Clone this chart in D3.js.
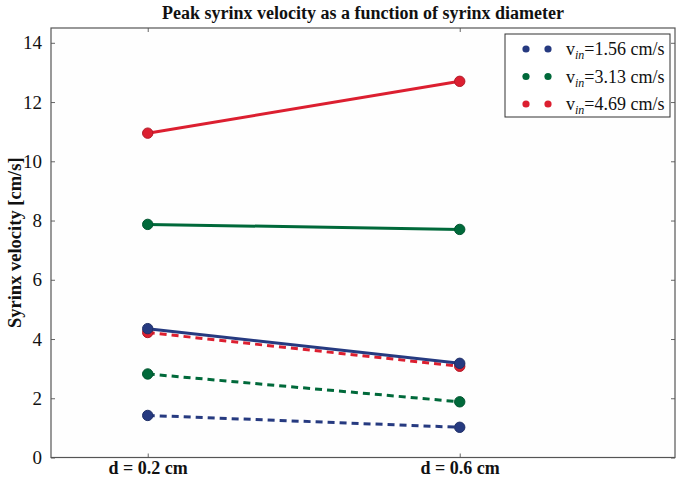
<!DOCTYPE html>
<html><head><meta charset="utf-8">
<script src="https://cdn.jsdelivr.net/npm/d3@7"></script>
<style>body{margin:0;background:#fff}svg{display:block}text{font-family:"Liberation Serif","DejaVu Serif",serif}</style>
</head><body><svg id="c" width="680" height="480"></svg>
<script>
const categories = ["d = 0.2 cm", "d = 0.6 cm"];
const seriesNames = ["v_in=1.56 cm/s", "v_in=3.13 cm/s", "v_in=4.69 cm/s"];
const legendValues = ["1.56", "3.13", "4.69"];
const colors = ["#263a80", "#00693a", "#dc1f30"];
const solidValues = [[4.35, 3.18], [7.87, 7.70], [10.95, 12.70]];
const dashedValues = [[1.42, 1.02], [2.82, 1.88], [4.22, 3.08]];
const yTicks = [0, 2, 4, 6, 8, 10, 12, 14];

const svg = d3.select("#c");
const L = 51, R = 675, T = 28, B = 457.5;
const x = d3.scaleLinear().domain([-0.31, 1.69]).range([L, R]);
const y = d3.scaleLinear().domain([0, 14.5]).range([B, T]);

svg.append("rect").attr("x", L).attr("y", T).attr("width", R - L).attr("height", B - T).attr("fill", "#fefefe");

// axes
const yl = svg.append("g").attr("transform", `translate(${L},0)`).call(d3.axisLeft(y).tickValues(yTicks).tickSize(-4).tickPadding(9));
const yr = svg.append("g").attr("transform", `translate(${R},0)`).call(d3.axisRight(y).tickValues(yTicks).tickSize(-4).tickFormat(""));
const xb = svg.append("g").attr("transform", `translate(0,${B})`).call(d3.axisBottom(x).tickValues([0, 1]).tickSize(-4).tickPadding(4).tickFormat(i => categories[i]));
const xt = svg.append("g").attr("transform", `translate(0,${T})`).call(d3.axisTop(x).tickValues([0, 1]).tickSize(-4).tickFormat(""));
[yl, yr, xb, xt].forEach(g => { g.select(".domain").remove(); g.selectAll("line").attr("stroke", "#666"); });
yl.selectAll("text").attr("font-size", 19).attr("fill", "#111").attr("font-family", "Liberation Serif");
xb.selectAll("text").attr("font-size", 18).attr("font-weight", "bold").attr("fill", "#111").attr("font-family", "Liberation Serif");

svg.append("rect").attr("x", L).attr("y", T).attr("width", R - L).attr("height", B - T).attr("fill", "none").attr("stroke", "#555").attr("stroke-width", 1.2);

const line = d3.line().x((d, i) => x(i)).y(d => y(d));
function draw(vals, dashed) {
  vals.forEach((s, k) => {
    svg.append("path").attr("d", line(s)).attr("fill", "none").attr("stroke", colors[k]).attr("stroke-width", 3)
      .attr("stroke-dasharray", dashed ? "7,5" : null);
    s.forEach((v, i) => svg.append("circle").attr("cx", x(i)).attr("cy", y(v)).attr("r", 5.2)
      .attr("fill", colors[k]).attr("stroke", d3.color(colors[k]).darker(0.6)).attr("stroke-width", 1));
  });
}
draw(dashedValues, true);
draw(solidValues, false);

// title
svg.append("text").attr("x", (L + R) / 2).attr("y", 19).attr("text-anchor", "middle").attr("font-size", 18).attr("font-weight", "bold").attr("fill", "#111").text("Peak syrinx velocity as a function of syrinx diameter");
// y label
svg.append("text").attr("transform", `translate(21,${(T + B) / 2}) rotate(-90)`).attr("text-anchor", "middle").attr("font-size", 18.5).attr("font-weight", "bold").attr("fill", "#111").text("Syrinx velocity [cm/s]");

// legend
const lg = svg.append("g");
lg.append("rect").attr("x", 505).attr("y", 34).attr("width", 165).attr("height", 83).attr("fill", "#fff").attr("stroke", "#333").attr("stroke-width", 1);
seriesNames.forEach((n, k) => {
  const yy = 49 + k * 27.5;
  [526, 548].forEach(cx => lg.append("circle").attr("cx", cx).attr("cy", yy).attr("r", 3.6).attr("fill", colors[k]));
  const t = lg.append("text").attr("x", 566).attr("y", yy + 6).attr("font-size", 18).attr("fill", "#111");
  t.append("tspan").text("v");
  t.append("tspan").attr("font-style", "italic").attr("font-size", 12).attr("dy", 4).text("in");
  t.append("tspan").attr("dy", -4).text("=" + legendValues[k] + " cm/s");
});
</script></body></html>
